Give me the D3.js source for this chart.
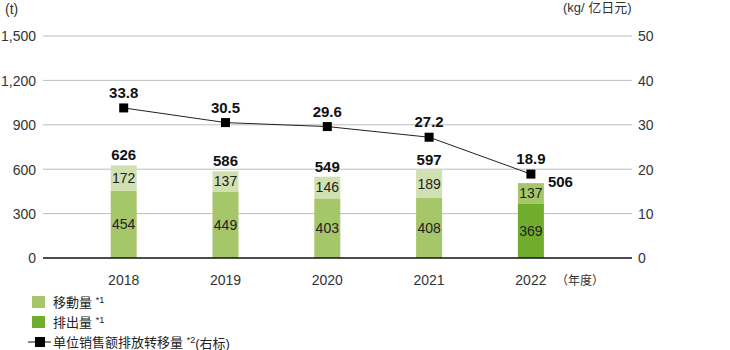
<!DOCTYPE html>
<html>
<head>
<meta charset="utf-8">
<script src="https://cdn.jsdelivr.net/npm/d3@7"></script>
<style>
  body { margin: 0; background: #fff; }
  svg { font-family: "Liberation Sans", "Noto Sans CJK SC", sans-serif; }
</style>
</head>
<body>
<div id="chart"></div>
<script>
// data
const years = ["2018", "2019", "2020", "2021", "2022"];
const lowerValues = [454, 449, 403, 408, 369];
const upperValues = [172, 137, 146, 189, 137];
const totals = [626, 586, 549, 597, 506];
const intensity = [33.8, 30.5, 29.6, 27.2, 18.9];
const leftTicks = [0, 300, 600, 900, 1200, 1500];
const rightTicks = [0, 10, 20, 30, 40, 50];

const width = 730;
const height = 350;
const plot = { left: 43, right: 632, top: 36, bottom: 258 };

const colLight = "#d0e0b1";
const colMid = "#a6c66a";
const colDark = "#70ad2e";

const svg = d3.select("#chart").append("svg")
    .attr("width", width)
    .attr("height", height);

const x = d3.scaleBand().domain(years).range([72.8, 581.8]);
const barW = 26;
const cx = d => x(d) + x.bandwidth() / 2;

const yL = d3.scaleLinear().domain([0, 1500]).range([plot.bottom, plot.top]);
const yR = d3.scaleLinear().domain([0, 50]).range([plot.bottom, plot.top]);

// grid
svg.append("g").selectAll("line")
    .data(leftTicks.filter(t => t > 0))
    .join("line")
    .attr("x1", plot.left).attr("x2", plot.right)
    .attr("y1", d => yL(d)).attr("y2", d => yL(d))
    .attr("stroke", "#bdbdbd").attr("stroke-width", 1);

// left axis
const axL = svg.append("g")
    .attr("transform", `translate(${plot.left - 4},0)`)
    .call(d3.axisLeft(yL).tickValues(leftTicks).tickSize(0).tickFormat(d3.format(",")));
axL.select(".domain").remove();
axL.selectAll("text").attr("font-size", "14px").attr("fill", "#333").attr("dy", "0.35em");

// right axis
const axR = svg.append("g")
    .attr("transform", `translate(${plot.right + 6},0)`)
    .call(d3.axisRight(yR).tickValues(rightTicks).tickSize(0));
axR.select(".domain").remove();
axR.selectAll("text").attr("font-size", "14px").attr("fill", "#333").attr("x", 0).attr("dy", "0.35em");

// axis titles
svg.append("text").attr("x", 5).attr("y", 14)
    .attr("font-size", "14px").attr("fill", "#333").text("(t)");
svg.append("text").attr("x", 563).attr("y", 12)
    .attr("font-size", "13px").attr("fill", "#333").text("(kg/ 亿日元)");

// bars
const bars = svg.append("g");
years.forEach((yr, i) => {
    const latest = i === years.length - 1;
    const lo = lowerValues[i];
    const up = upperValues[i];
    bars.append("rect")
        .attr("x", cx(yr) - barW / 2).attr("width", barW)
        .attr("y", yL(lo)).attr("height", yL(0) - yL(lo))
        .attr("fill", latest ? colDark : colMid);
    bars.append("rect")
        .attr("x", cx(yr) - barW / 2).attr("width", barW)
        .attr("y", yL(lo + up)).attr("height", yL(lo) - yL(lo + up))
        .attr("fill", latest ? colMid : colLight);

    bars.append("text")
        .attr("x", cx(yr)).attr("y", (yL(0) + yL(lo)) / 2)
        .attr("dy", "0.35em").attr("text-anchor", "middle")
        .attr("font-size", "14px").attr("fill", "#222").text(lo);
    bars.append("text")
        .attr("x", cx(yr)).attr("y", (yL(lo) + yL(lo + up)) / 2)
        .attr("dy", "0.35em").attr("text-anchor", "middle")
        .attr("font-size", "14px").attr("fill", "#222").text(up);

    // total label; last one sits to the right of the bar
    bars.append("text")
        .attr("x", latest ? cx(yr) + barW / 2 + 4 : cx(yr))
        .attr("y", latest ? yL(totals[i]) + 4 : yL(totals[i]) - 5)
        .attr("text-anchor", latest ? "start" : "middle")
        .attr("font-size", "15px").attr("font-weight", "bold").attr("fill", "#111")
        .text(totals[i]);
});

// baseline
svg.append("line")
    .attr("x1", plot.left).attr("x2", plot.right)
    .attr("y1", yL(0)).attr("y2", yL(0))
    .attr("stroke", "#111").attr("stroke-width", 1.5);

// x labels
svg.append("g").selectAll("text")
    .data(years)
    .join("text")
    .attr("x", d => cx(d)).attr("y", 285)
    .attr("text-anchor", "middle")
    .attr("font-size", "14px").attr("fill", "#333")
    .text(d => d);
svg.append("text").attr("x", 556).attr("y", 285)
    .attr("font-size", "12px").attr("fill", "#333").text("（年度）");

// intensity line
const line = d3.line()
    .x((d, i) => cx(years[i]))
    .y(d => yR(d));
svg.append("path")
    .datum(intensity)
    .attr("d", line)
    .attr("fill", "none").attr("stroke", "#222").attr("stroke-width", 1);
svg.append("g").selectAll("rect")
    .data(intensity)
    .join("rect")
    .attr("x", (d, i) => cx(years[i]) - 4.5)
    .attr("y", d => yR(d) - 4.5)
    .attr("width", 9).attr("height", 9)
    .attr("fill", "#000");
svg.append("g").selectAll("text")
    .data(intensity)
    .join("text")
    .attr("x", (d, i) => cx(years[i]))
    .attr("y", d => yR(d) - 10)
    .attr("text-anchor", "middle")
    .attr("font-size", "15px").attr("font-weight", "bold").attr("fill", "#111")
    .text(d => d.toFixed(1));

// legend
const legend = svg.append("g");
const legendItems = [
    { label: "移動量", sup: "*1", color: colMid, y: 302 },
    { label: "排出量", sup: "*1", color: colDark, y: 322 }
];
legendItems.forEach(it => {
    legend.append("rect")
        .attr("x", 32).attr("y", it.y - 6).attr("width", 13).attr("height", 12)
        .attr("fill", it.color);
    const t = legend.append("text")
        .attr("x", 53).attr("y", it.y).attr("dy", "0.35em")
        .attr("font-size", "13px").attr("fill", "#222");
    t.append("tspan").text(it.label + " ");
    t.append("tspan").attr("font-size", "9px").attr("dy", "-0.4em").text(it.sup);
});
legend.append("line")
    .attr("x1", 28).attr("x2", 51).attr("y1", 342).attr("y2", 342)
    .attr("stroke", "#111").attr("stroke-width", 1);
legend.append("rect")
    .attr("x", 35).attr("y", 337).attr("width", 10).attr("height", 10).attr("fill", "#000");
const lt = legend.append("text")
    .attr("x", 53).attr("y", 342).attr("dy", "0.35em")
    .attr("font-size", "13px").attr("fill", "#222");
lt.append("tspan").text("单位销售额排放转移量 ");
lt.append("tspan").attr("font-size", "9px").attr("dy", "-0.4em").text("*2");
lt.append("tspan").attr("dy", "0.4em").text("(右标)");
</script>
</body>
</html>
